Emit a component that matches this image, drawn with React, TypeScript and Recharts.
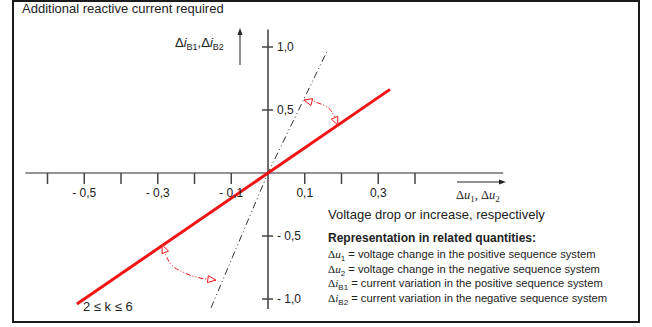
import {
  ComposedChart,
  Line,
  Scatter,
  XAxis,
  YAxis,
  ReferenceLine,
} from 'recharts';

// characteristic with k = 2 (solid red) and k = 6 (dash-dot)
const lineK2 = [
  { x: -0.52, y: -1.04 },
  { x: 0.332, y: 0.664 },
];
const lineK6 = [
  { x: -0.155, y: -1.07 },
  { x: 0, y: 0 },
  { x: 0.163, y: 0.98 },
];

// arcs marking the range between the two characteristics
const upperArc = [
  { x: 0.098, y: 0.579 },
  { x: 0.15, y: 0.54 },
  { x: 0.174, y: 0.484 },
  { x: 0.19, y: 0.381 },
];
const lowerArc = [
  { x: -0.288, y: -0.571 },
  { x: -0.267, y: -0.714 },
  { x: -0.231, y: -0.786 },
  { x: -0.185, y: -0.833 },
  { x: -0.142, y: -0.85 },
];

const xTicks = [-0.6, -0.5, -0.4, -0.3, -0.2, -0.1, 0.1, 0.2, 0.3, 0.4];
const xTickLabels = [-0.5, -0.3, -0.1, 0.1, 0.3];
const yTicks = [-1.0, -0.5, 0.5, 1.0];

const RED = '#f01414';
const AXIS = '#6f6f6f';
const INK = '#222';
const SANS = '"Liberation Sans", Arial, Helvetica, sans-serif';
const SERIF = '"Liberation Serif", "Times New Roman", serif';

const fmt = (v: number) =>
  (v < 0 ? '- ' : '') + Math.abs(v).toFixed(1).replace('.', ',');

const xTickData = xTicks.map((x) => ({ x, y: 0 }));
const yTickData = yTicks.map((y) => ({ x: 0, y }));

const XTickMark = (props: any) => {
  const { cx, cy, payload } = props;
  const labelled = xTickLabels.includes(payload.x);
  return (
    <g>
      <line x1={cx} y1={cy} x2={cx} y2={cy + 11} stroke="#444" strokeWidth={1.5} />
      {labelled && (
        <text x={cx} y={cy + 24} textAnchor="middle" fontSize={12} fontFamily={SANS} fill={INK}>
          {fmt(payload.x)}
        </text>
      )}
    </g>
  );
};

const YTickMark = (props: any) => {
  const { cx, cy, payload } = props;
  return (
    <g>
      <line x1={cx - 6} y1={cy} x2={cx + 5} y2={cy} stroke="#444" strokeWidth={1.5} />
      <text x={cx + 9} y={cy} dy="0.35em" fontSize={12} fontFamily={SANS} fill={INK}>
        {fmt(payload.y)}
      </text>
    </g>
  );
};

const arrowHead = (tx: number, ty: number, dx: number, dy: number) => {
  const len = Math.hypot(dx, dy) || 1;
  const ux = dx / len;
  const uy = dy / len;
  const bx = tx - ux * 8;
  const by = ty - uy * 8;
  const pts = [
    [tx, ty],
    [bx - uy * 3.5, by + ux * 3.5],
    [bx + uy * 3.5, by - ux * 3.5],
  ]
    .map((p) => p.join(','))
    .join(' ');
  return <polygon points={pts} fill="#fff" stroke={RED} strokeWidth={1} />;
};

// open arrowheads at both ends of an arc, oriented along the arc
const arcArrows = (count: number) => {
  let first = { x: 0, y: 0 };
  let prev = { x: 0, y: 0 };
  return (props: any) => {
    const { cx, cy, index } = props;
    const heads = [];
    if (index === 0) first = { x: cx, y: cy };
    if (index === 1) heads.push(arrowHead(first.x, first.y, first.x - cx, first.y - cy));
    if (index === count - 1) heads.push(arrowHead(cx, cy, cx - prev.x, cy - prev.y));
    prev = { x: cx, y: cy };
    return (
      <g key={`arc-dot-${index}`}>
        {heads.map((h, i) => (
          <g key={i}>{h}</g>
        ))}
      </g>
    );
  };
};

const Sub = ({ children, size = 8 }: { children: string; size?: number }) => (
  <tspan fontSize={size} dy={3}>
    {children}
  </tspan>
);

const legendRows = [
  { sym: 'u', sub: '1', text: ' = voltage change in the positive sequence system' },
  { sym: 'u', sub: '2', text: ' = voltage change in the negative sequence system' },
  { sym: 'i', sub: 'B1', text: ' = current variation in the positive sequence system' },
  { sym: 'i', sub: 'B2', text: ' = current variation in the negative sequence system' },
];

const App = () => {
  return (
    <div style={{ position: 'absolute', left: 0, top: 0, width: 652, height: 327, background: '#fff' }}>
      <div
        style={{
          position: 'absolute',
          left: 12,
          top: 0,
          width: 628,
          height: 323,
          border: '2px solid #1b1b1b',
          boxSizing: 'border-box',
        }}
      />
      <div style={{ position: 'absolute', left: 0, top: 0 }}>
        <ComposedChart
          width={652}
          height={327}
          margin={{ top: 29.4, right: 148.8, bottom: 17.9, left: 25.45 }}
        >
          <XAxis dataKey="x" type="number" domain={[-0.66, 0.64]} hide allowDataOverflow />
          <YAxis type="number" domain={[-1.08, 1.14]} hide allowDataOverflow />
          <ReferenceLine y={0} stroke={AXIS} strokeWidth={1.5} />
          <ReferenceLine x={0} stroke={AXIS} strokeWidth={2} />
          <Scatter data={xTickData} dataKey="y" shape={XTickMark} isAnimationActive={false} />
          <Scatter data={yTickData} dataKey="y" shape={YTickMark} isAnimationActive={false} />
          <Line
            data={lineK6}
            dataKey="y"
            type="linear"
            stroke="#333"
            strokeWidth={1}
            strokeDasharray="7 3 1 3 1 3"
            dot={false}
            isAnimationActive={false}
          />
          <Line
            data={upperArc}
            dataKey="y"
            type="monotone"
            stroke={RED}
            strokeWidth={1}
            strokeDasharray="5 2 1 2 1 2"
            dot={arcArrows(upperArc.length)}
            activeDot={false}
            isAnimationActive={false}
          />
          <Line
            data={lowerArc}
            dataKey="y"
            type="monotone"
            stroke={RED}
            strokeWidth={1}
            strokeDasharray="5 2 1 2 1 2"
            dot={arcArrows(lowerArc.length)}
            activeDot={false}
            isAnimationActive={false}
          />
          <Line
            data={lineK2}
            dataKey="y"
            type="linear"
            stroke={RED}
            strokeWidth={3}
            dot={false}
            isAnimationActive={false}
          />
        </ComposedChart>
      </div>
      <svg
        width={652}
        height={327}
        style={{ position: 'absolute', left: 0, top: 0, pointerEvents: 'none' }}
      >
        <text x={22} y={13} fontSize={13} fontFamily={SANS} fill={INK}>
          Additional reactive current required
        </text>

        <text x={175} y={47} fontSize={13} fontFamily={SANS} fill={INK}>
          Δ<tspan fontStyle="italic">i</tspan>
          <Sub size={9}>B1</Sub>
          <tspan dy={-3}>,Δ</tspan>
          <tspan fontStyle="italic">i</tspan>
          <Sub size={9}>B2</Sub>
        </text>
        <line x1={240} y1={65} x2={240} y2={33} stroke={INK} strokeWidth={1} />
        <polygon points="240,28 237.5,35 242.5,35" fill={INK} />

        <line x1={457} y1={182} x2={501} y2={182} stroke={INK} strokeWidth={1} />
        <polygon points="506,182 499,179.5 499,184.5" fill={INK} />
        <text x={456} y={199} fontSize={12.5} fontFamily={SERIF} fill={INK}>
          Δ<tspan fontStyle="italic">u</tspan>
          <Sub size={9}>1</Sub>
          <tspan dy={-3}>, Δ</tspan>
          <tspan fontStyle="italic">u</tspan>
          <Sub size={9}>2</Sub>
        </text>

        <text x={328} y={219} fontSize={13} fontFamily={SANS} fill={INK}>
          Voltage drop or increase, respectively
        </text>
        <text x={328} y={242} fontSize={12} fontWeight="bold" fontFamily={SANS} fill={INK}>
          Representation in related quantities:
        </text>
        {legendRows.map((r, i) => (
          <text key={i} x={328} y={258 + i * 14.5} fontSize={11.2} fontFamily={SANS} fill={INK}>
            <tspan fontFamily={SERIF}>Δ</tspan>
            <tspan fontFamily={SERIF} fontStyle="italic">
              {r.sym}
            </tspan>
            <Sub>{r.sub}</Sub>
            <tspan dy={-3}>{r.text}</tspan>
          </text>
        ))}

        <text x={83} y={311} fontSize={13} fontFamily={SANS} fill={INK}>
          2 ≤ k ≤ 6
        </text>
      </svg>
    </div>
  );
};

export default App;
